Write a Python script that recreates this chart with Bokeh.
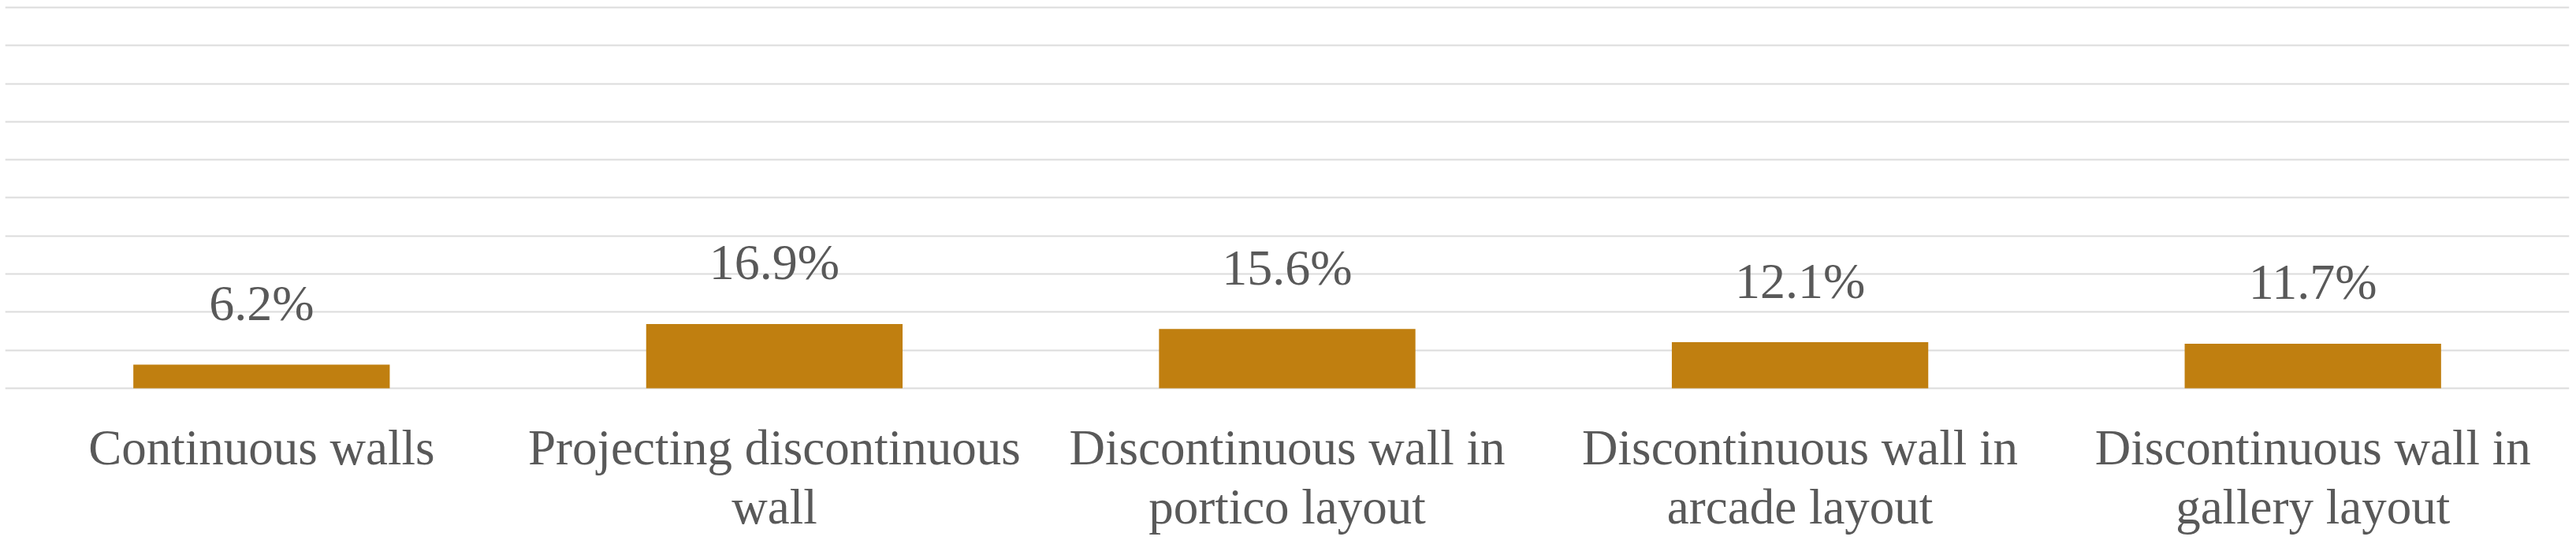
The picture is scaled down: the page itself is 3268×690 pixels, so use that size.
from bokeh.plotting import figure
from bokeh.models import Range1d, FactorRange, FixedTicker, ColumnDataSource
from bokeh.core.properties import value
from bokeh.embed import file_html
from bokeh.resources import INLINE

categories = ["Continuous walls", "Projecting discontinuous wall",
              "Discontinuous wall in portico layout",
              "Discontinuous wall in arcade layout",
              "Discontinuous wall in gallery layout"]
label_line1 = ["Continuous walls", "Projecting discontinuous", "Discontinuous wall in",
               "Discontinuous wall in", "Discontinuous wall in"]
label_line2 = ["", "wall", "portico layout", "arcade layout", "gallery layout"]
values = [6.2, 16.9, 15.6, 12.1, 11.7]
value_labels = ["6.2%", "16.9%", "15.6%", "12.1%", "11.7%"]
grid_ticks = [0, 10, 20, 30, 40, 50, 60, 70, 80, 90, 100]

src = ColumnDataSource(dict(cat=categories, val=values, vlab=value_labels,
                            l1=label_line1, l2=label_line2, zero=[0] * len(categories)))

p = figure(width=3268, height=690, output_backend="svg", toolbar_location=None,
           x_range=FactorRange(*categories, range_padding=0),
           y_range=Range1d(-40.99, 101.86),
           min_border=0, min_border_left=6, min_border_right=9,
           min_border_top=0, min_border_bottom=0)
p.outline_line_color = None
p.background_fill_color = "white"
p.border_fill_color = "white"

p.xaxis.visible = False
p.yaxis.visible = False
p.xgrid.grid_line_color = None
p.ygrid.ticker = FixedTicker(ticks=grid_ticks)
p.ygrid.grid_line_color = "#DCDCDC"
p.ygrid.grid_line_width = 2

p.vbar(x="cat", top="val", bottom=0, width=0.5, source=src,
       fill_color="#C07F10", line_color=None)

font = value("Liberation Serif")
p.text(x="cat", y="val", text="vlab", source=src, y_offset=-78,
       text_align="center", text_baseline="alphabetic", text_font=font,
       text_font_size="64px", text_color="#595959")
p.text(x="cat", y="zero", text="l1", source=src, y_offset=75,
       text_align="center", text_baseline="alphabetic", text_font=font,
       text_font_size="63px", text_color="#595959")
p.text(x="cat", y="zero", text="l2", source=src, y_offset=150,
       text_align="center", text_baseline="alphabetic", text_font=font,
       text_font_size="63px", text_color="#595959")

open("out.html", "w").write(file_html(p, INLINE))
